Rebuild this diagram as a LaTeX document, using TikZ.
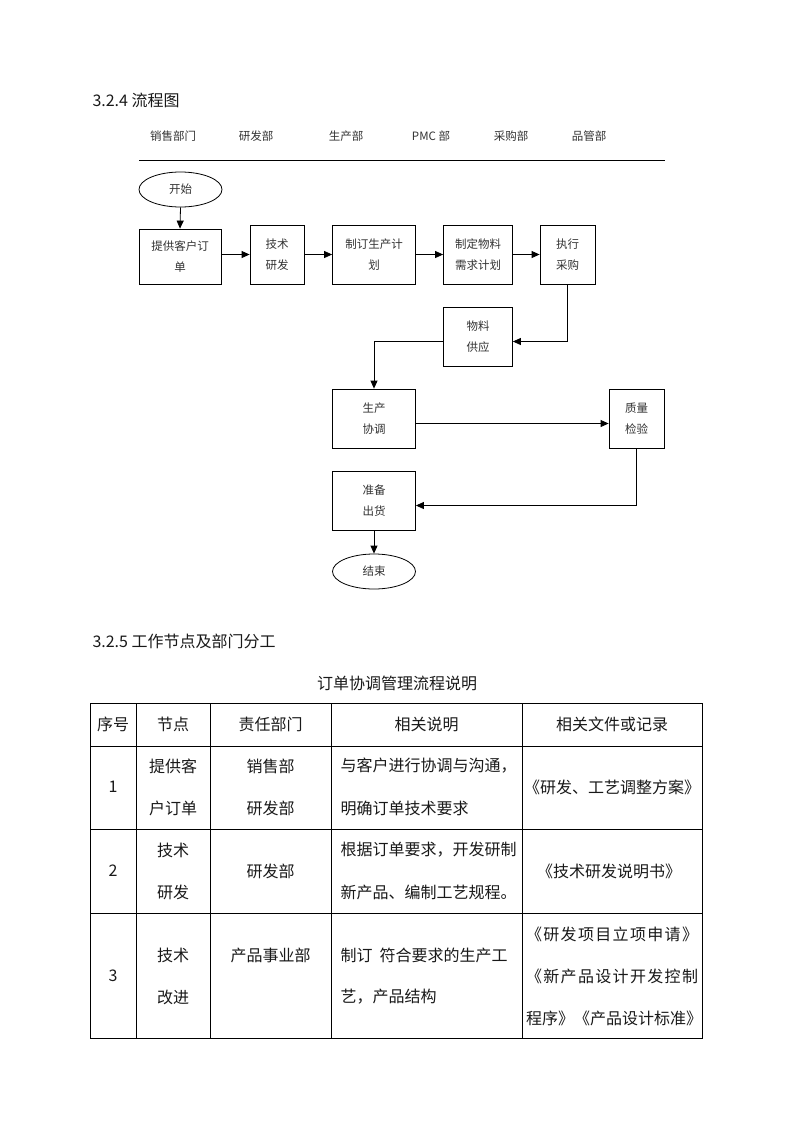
\documentclass[tikz,border=0pt]{standalone}
\usepackage{fontspec}
\setmainfont{Noto Sans CJK SC}
\usetikzlibrary{arrows.meta,shapes.geometric}
\begin{document}
\begin{tikzpicture}[x=1pt,y=-1pt,
  flowbox/.style={draw=black,line width=0.8pt,inner sep=0pt,align=center,font=\fontsize{11.5}{21}\selectfont,text=black!80},
  flowell/.style={ellipse,draw=black,line width=0.8pt,inner sep=0pt,font=\fontsize{11.5}{14}\selectfont,text=black!80},
  arr/.style={line width=0.8pt,-{Triangle[length=8pt,width=7pt]}},
  conn/.style={line width=0.8pt},
  dept/.style={font=\fontsize{11.5}{14}\selectfont,text=black!80},
  heading/.style={anchor=west,font=\fontsize{16}{19}\selectfont,text=black!90},
  cell/.style={font=\fontsize{16}{19}\selectfont,text=black!90},
  grid/.style={line width=0.8pt}]
\useasboundingbox (0,0) rectangle (793,1122);
\fill[white] (0,0) rectangle (793,1122);

% ---------- headings ----------
\node[heading] (h1) at (89,100) {3.2.4 流程图};
\node[heading] (h2) at (89,641) {3.2.5 工作节点及部门分工};

% ---------- department header ----------
\node[dept] (d1) at (173,136) {销售部门};
\node[dept] (d2) at (256,136) {研发部};
\node[dept] (d3) at (346,136) {生产部};
\node[dept] (d4) at (431,136) {PMC 部};
\node[dept] (d5) at (511,136) {采购部};
\node[dept] (d6) at (589,136) {品管部};
\coordinate (la) at (139,160);
\coordinate (lb) at (665,160);
\draw[conn] (la) -- (lb);

% ---------- flow nodes ----------
\node[flowell,minimum width=83,minimum height=35] (start) at (180.5,189.5) {开始};
\node[flowbox,minimum width=82,minimum height=55] (b1) at (180,256.5) {提供客户订\\单};
\node[flowbox,minimum width=54,minimum height=59] (b2) at (277,254.5) {技术\\研发};
\node[flowbox,minimum width=83,minimum height=59] (b3) at (374,254.5) {制订生产计\\划};
\node[flowbox,minimum width=69,minimum height=59] (b4) at (478,254.5) {制定物料\\需求计划};
\node[flowbox,minimum width=55,minimum height=59] (b5) at (567.5,254.5) {执行\\采购};
\node[flowbox,minimum width=69,minimum height=59] (b6) at (478,336.5) {物料\\供应};
\node[flowbox,minimum width=83,minimum height=59] (b7) at (374,418.5) {生产\\协调};
\node[flowbox,minimum width=55,minimum height=59] (b8) at (636.5,418.5) {质量\\检验};
\node[flowbox,minimum width=83,minimum height=59] (b9) at (374,500.5) {准备\\出货};
\node[flowell,minimum width=83,minimum height=35] (stop) at (374,571.5) {结束};

% ---------- connectors ----------
\draw[arr] (start.south) -- (b1.north);
\draw[arr] (b1.east |- b2.west) -- (b2.west);
\draw[arr] (b2.east) -- (b3.west);
\draw[arr] (b3.east) -- (b4.west);
\draw[arr] (b4.east) -- (b5.west);
\draw[arr] (b5.south) |- ([yshift=-5pt]b6.east);
\draw[arr] ([yshift=-5pt]b6.west) -| (b7.north);
\draw[arr] ([yshift=-5pt]b7.east) -- ([yshift=-5pt]b8.west);
\draw[arr] (b8.south) |- ([yshift=-5pt]b9.east);
\draw[arr] (b9.south) -- (stop.north);

% ---------- table ----------
\node[cell] (title) at (397,683) {订单协调管理流程说明};
\coordinate (t0) at (90,703);
\coordinate (t5) at (702,1038);
\draw[grid] (t0) rectangle (t5);
\foreach \yy in {746,829,913} \draw[grid] (90,\yy) -- (702,\yy);
\foreach \xx in {136,210,331,522} \draw[grid] (\xx,703) -- (\xx,1038);

\node[cell] (c00) at (113,724) {序号};
\node[cell] (c01) at (173,724) {节点};
\node[cell] (c02) at (270.5,724) {责任部门};
\node[cell] (c03) at (426.5,724) {相关说明};
\node[cell] (c04) at (612,724) {相关文件或记录};

\node[cell] (c10) at (113,787) {1};
\node[cell] (c11a) at (173,766) {提供客};
\node[cell] (c11b) at (173,808) {户订单};
\node[cell] (c12a) at (270.5,766) {销售部};
\node[cell] (c12b) at (270.5,808) {研发部};
\node[cell,anchor=west] (c13a) at (337,766) {与客户进行协调与沟通，};
\node[cell,anchor=west] (c13b) at (337,808) {明确订单技术要求};
\node[cell] (c14) at (612,787) {《研发、工艺调整方案》};

\node[cell] (c20) at (113,871) {2};
\node[cell] (c21a) at (173,850) {技术};
\node[cell] (c21b) at (173,892) {研发};
\node[cell] (c22) at (270.5,871) {研发部};
\node[cell,anchor=west] (c23a) at (337,850) {根据订单要求，开发研制};
\node[cell,anchor=west] (c23b) at (337,892) {新产品、编制工艺规程。};
\node[cell] (c24) at (609,871) {《技术研发说明书》};

\node[cell] (c30) at (113,976) {3};
\node[cell] (c31a) at (173,955) {技术};
\node[cell] (c31b) at (173,997) {改进};
\node[cell] (c32) at (270.5,955) {产品事业部};
\node[cell,anchor=west] (c33a) at (337,955) {制订\ \ 符合要求的生产工};
\node[cell,anchor=west] (c33b) at (337,997) {艺，产品结构};
\node[cell] (c34a) at (612,934) {\makebox[172pt][s]{《\hfill 研\hfill 发\hfill 项\hfill 目\hfill 立\hfill 项\hfill 申\hfill 请\hfill 》}};
\node[cell] (c34b) at (612,976) {\makebox[172pt][s]{《\hfill 新\hfill 产\hfill 品\hfill 设\hfill 计\hfill 开\hfill 发\hfill 控\hfill 制}};
\node[cell] (c34c) at (612,1018) {\makebox[172pt][s]{程\hfill 序》《产\hfill 品\hfill 设\hfill 计\hfill 标\hfill 准》}};
\end{tikzpicture}
\end{document}
